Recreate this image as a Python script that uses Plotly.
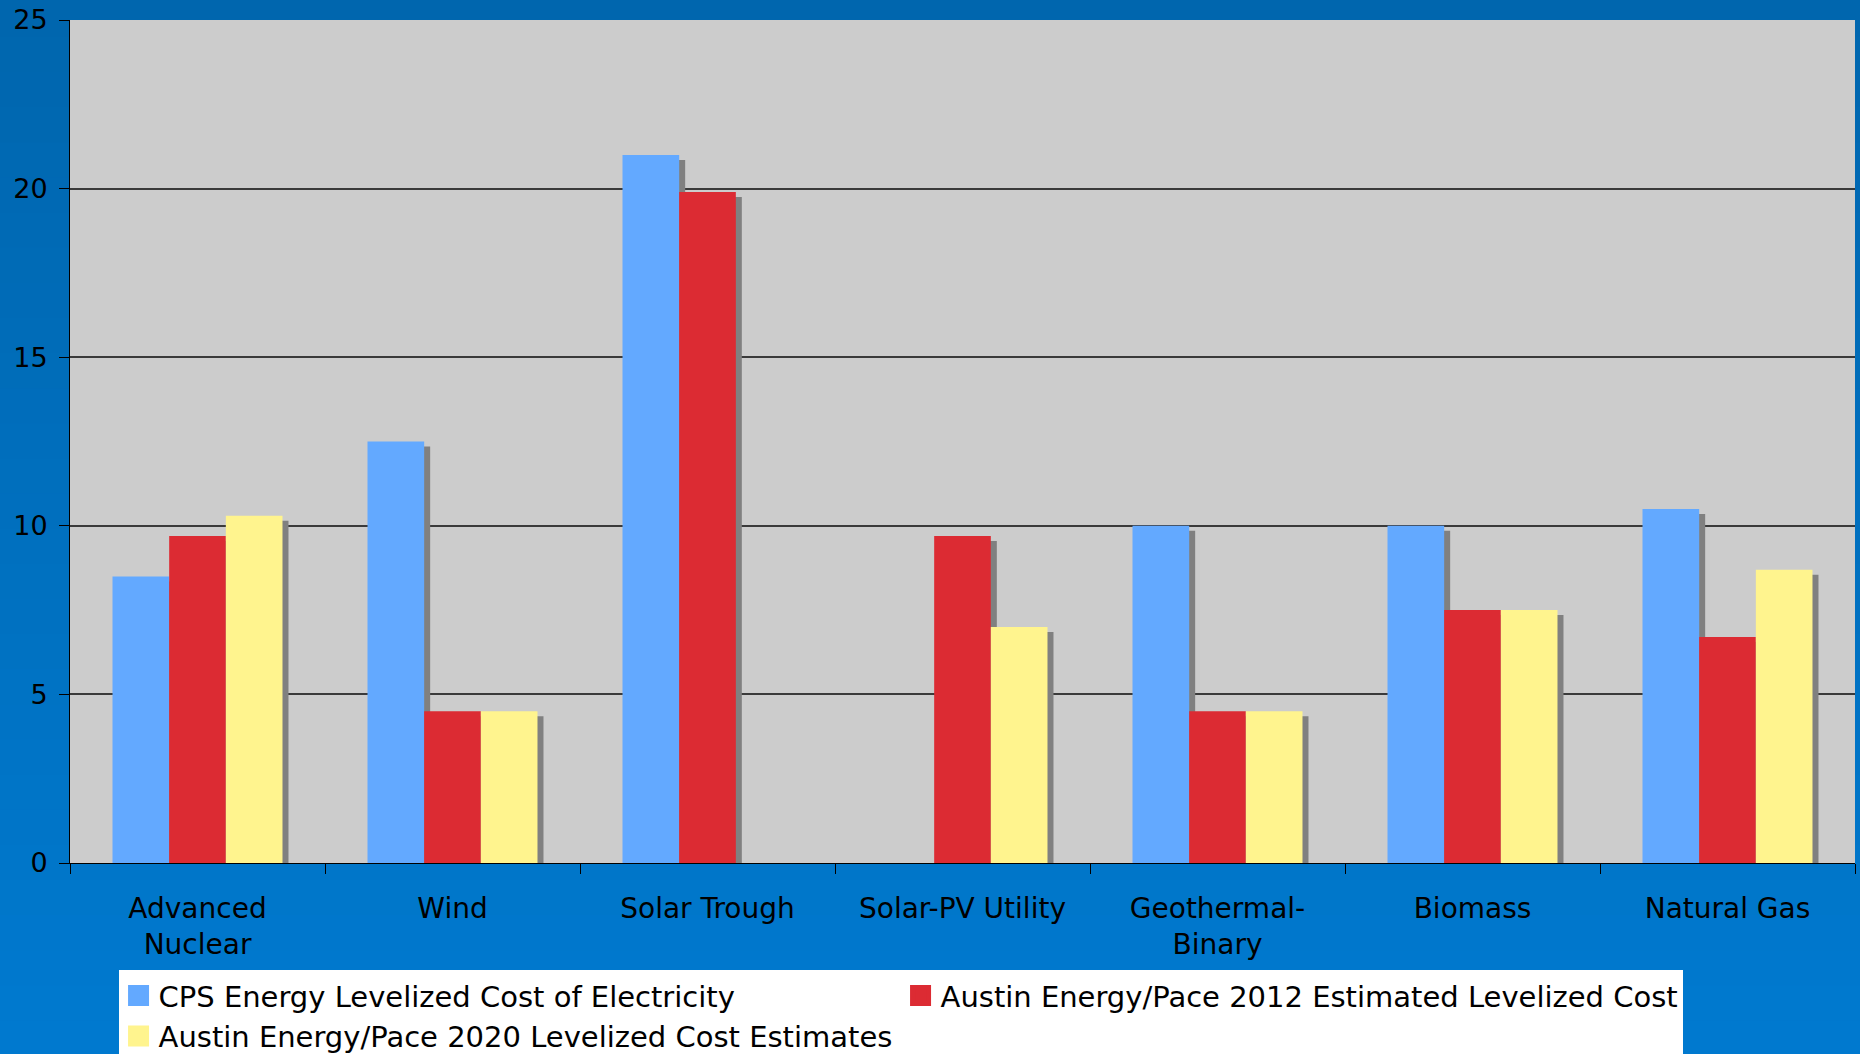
import plotly.graph_objects as go

categories = ["Advanced<br>Nuclear", "Wind", "Solar Trough", "Solar-PV Utility",
              "Geothermal-<br>Binary", "Biomass", "Natural Gas"]
cps_energy = [8.5, 12.5, 21.0, None, 10.0, 10.0, 10.5]
austin_2012 = [9.7, 4.5, 19.9, 9.7, 4.5, 7.5, 6.7]
austin_2020 = [10.3, 4.5, None, 7.0, 4.5, 7.5, 8.7]
series_names = ["CPS Energy Levelized Cost of Electricity",
                "Austin Energy/Pace 2012 Estimated Levelized Cost",
                "Austin Energy/Pace 2020 Levelized Cost Estimates"]
series_values = [cps_energy, austin_2012, austin_2020]
colors = ["#63A9FF", "#DC2B33", "#FFF48E"]
y_ticks = [0, 5, 10, 15, 20, 25]

FONT = "DejaVu Sans"
W, H = 1860, 1054
ML, MR, MT, MB = 70, 5, 20, 191
plot_h = H - MT - MB
plot_w = W - ML - MR
units_per_px_y = 25 / plot_h
units_per_px_x = len(categories) / plot_w

bar_w = 0.2222
shadow_dx = 6 * units_per_px_x
shadow_dy = 5 * units_per_px_y

fig = go.Figure()
# shadows
for i, vals in enumerate(series_values):
    off = -1.5 * bar_w + i * bar_w
    fig.add_trace(go.Bar(
        x=categories,
        y=[None if v is None else v - shadow_dy for v in vals],
        offset=off + shadow_dx, width=bar_w,
        marker=dict(color="#808080", line=dict(width=0)),
        showlegend=False, hoverinfo="skip"))
# bars
for i, vals in enumerate(series_values):
    off = -1.5 * bar_w + i * bar_w
    fig.add_trace(go.Bar(
        x=categories, y=vals, name=series_names[i],
        offset=off, width=bar_w,
        marker=dict(color=colors[i], line=dict(width=0)),
        showlegend=False))
# legend entries
for i in range(3):
    fig.add_trace(go.Scatter(
        x=[None], y=[None], mode="markers", name=series_names[i],
        marker=dict(symbol="square", size=16, color=colors[i],
                    line=dict(color=colors[i], width=5))))

# background gradient bands
n_bands = 30
y_bot = -MB / plot_h
y_top = 1 + MT / plot_h
top_rgb = (0, 102, 174)
bot_rgb = (0, 122, 208)
shapes = []
for k in range(n_bands):
    t = (k + 0.5) / n_bands
    r = int(bot_rgb[0] + (top_rgb[0] - bot_rgb[0]) * t)
    g = int(bot_rgb[1] + (top_rgb[1] - bot_rgb[1]) * t)
    b = int(bot_rgb[2] + (top_rgb[2] - bot_rgb[2]) * t)
    y0 = y_bot + (y_top - y_bot) * k / n_bands - 0.002
    y1 = y_bot + (y_top - y_bot) * (k + 1) / n_bands + 0.002
    shapes.append(dict(type="rect", xref="paper", yref="paper",
                       x0=-0.1, x1=1.1, y0=y0, y1=y1, layer="below",
                       fillcolor=f"rgb({r},{g},{b})", line=dict(width=0)))
# plot area background
shapes.append(dict(type="rect", xref="paper", yref="paper", x0=0, x1=1, y0=0, y1=1,
                   layer="below", fillcolor="#CCCCCC", line=dict(width=0)))

fig.update_layout(
    width=W, height=H,
    margin=dict(l=ML, r=MR, t=MT, b=MB, autoexpand=False),
    paper_bgcolor="#006EBD",
    plot_bgcolor="#CCCCCC",
    barmode="overlay",
    font=dict(family=FONT, size=28, color="black"),
    shapes=shapes,
    showlegend=True,
    legend=dict(orientation="h", x=0.0272, xanchor="left", y=-0.127, yanchor="top",
                bgcolor="white", borderwidth=0, entrywidth=737, entrywidthmode="pixels",
                font=dict(family=FONT, size=29, color="black"),
                itemclick=False, itemdoubleclick=False),
    xaxis=dict(type="category", range=[-0.5, 6.5], tickson="boundaries",
               ticks="outside", ticklen=10, tickcolor="black", tickwidth=1,
               showline=True, linecolor="black", linewidth=1,
               showgrid=False, ticklabelstandoff=20,
               tickfont=dict(family=FONT, size=28, color="black")),
    yaxis=dict(range=[0, 25], tickvals=y_ticks, ticks="outside", ticklen=10,
               tickcolor="black", tickwidth=1, showline=True, linecolor="black",
               linewidth=1, showgrid=True, gridcolor="#3A3A3A", gridwidth=1.5,
               zeroline=False, ticklabelstandoff=6,
               tickfont=dict(family=FONT, size=27, color="black")),
)

fig.write_html("out.html")
